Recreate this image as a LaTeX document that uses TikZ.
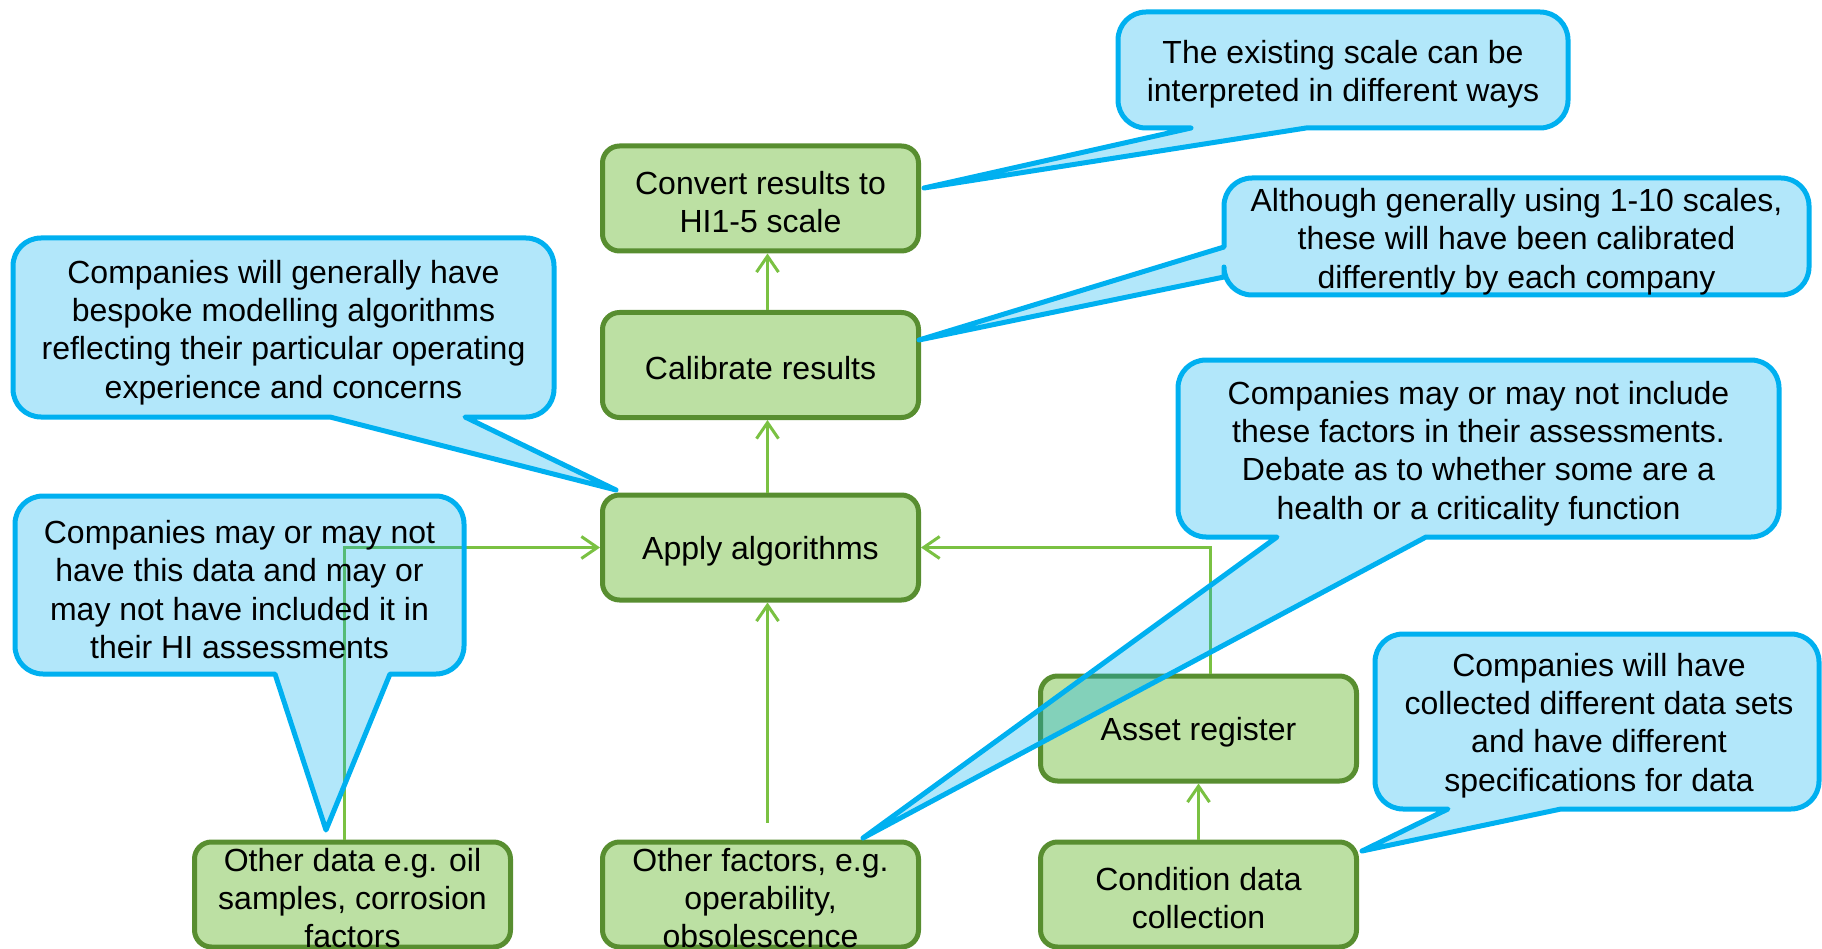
\documentclass[tikz,border=0pt]{standalone}
\usepackage{fontspec}
\setmainfont{Liberation Sans}
\usetikzlibrary{arrows.meta}
\definecolor{gfill}{RGB}{188,224,163}
\definecolor{gline}{RGB}{88,142,48}
\definecolor{garrow}{RGB}{122,193,66}
\definecolor{bline}{RGB}{0,176,240}
\newcommand\bR{28}
\newcommand\bK{15.5}
% callout with pointer on the bottom edge: x1 y1 x2 y2 bx1 bx2 tipx tipy
\newcommand\bubbleBottom[8]{%
\path[bubble] (#1+\bR,#2) -- (#3-\bR,#2)
 .. controls (#3-\bR+\bK,#2) and (#3,#2+\bR-\bK) .. (#3,#2+\bR)
 -- (#3,#4-\bR)
 .. controls (#3,#4-\bR+\bK) and (#3-\bR+\bK,#4) .. (#3-\bR,#4)
 -- (#6,#4) -- (#7,#8) -- (#5,#4) -- (#1+\bR,#4)
 .. controls (#1+\bR-\bK,#4) and (#1,#4-\bR+\bK) .. (#1,#4-\bR)
 -- (#1,#2+\bR)
 .. controls (#1,#2+\bR-\bK) and (#1+\bR-\bK,#2) .. (#1+\bR,#2) -- cycle;}
% callout with pointer on the left edge: x1 y1 x2 y2 by1 by2 tipx tipy
\newcommand\bubbleLeft[8]{%
\path[bubble] (#1+\bR,#2) -- (#3-\bR,#2)
 .. controls (#3-\bR+\bK,#2) and (#3,#2+\bR-\bK) .. (#3,#2+\bR)
 -- (#3,#4-\bR)
 .. controls (#3,#4-\bR+\bK) and (#3-\bR+\bK,#4) .. (#3-\bR,#4)
 -- (#1+\bR,#4)
 .. controls (#1+\bR-\bK,#4) and (#1,#4-\bR+\bK) .. (#1,#4-\bR)
 -- (#1,#6) -- (#7,#8) -- (#1,#5)
 -- (#1,#2+\bR)
 .. controls (#1,#2+\bR-\bK) and (#1+\bR-\bK,#2) .. (#1+\bR,#2) -- cycle;}
\tikzset{
  gbox/.style={draw=gline, fill=gfill, line width=5pt, rounded corners=17pt,
    minimum width=316pt, minimum height=105pt, inner sep=0pt},
  btext/.style={align=center, inner sep=0pt, font=\fontsize{32}{38.4}\selectfont},
  bubble/.style={fill=bline, fill opacity=0.3, draw=bline, draw opacity=1,
    line width=5pt, line join=round},
  arr/.style={draw=garrow, line width=3pt,
    -{Straight Barb[length=16pt,width=22pt,line width=3pt]}}
}
\begin{document}
\begin{tikzpicture}[x=1pt,y=-1pt]
\useasboundingbox (0,0) rectangle (1822,949);
% process boxes
\node[gbox] (conv)  at (760.5,198.5) {};
\node[gbox] (cal)   at (760.5,365)   {};
\node[gbox] (apply) at (760.5,547.5) {};
\node[gbox] (asset) at (1198.5,728.5) {};
\node[gbox] (cond)  at (1198.5,894.5) {};
\node[gbox] (odata) at (352.5,894.5) {};
\node[gbox] (ofact) at (760.5,894.5) {};
\node[btext] (convt)  at ([yshift=-3.5pt]conv.center)  {Convert results to\\HI1-5 scale};
\node[btext] (calt)   at ([yshift=-3.5pt]cal.center)   {Calibrate results};
\node[btext] (applyt) at ([yshift=-3.5pt]apply.center) {Apply algorithms};
\node[btext] (assett) at ([yshift=-3.5pt]asset.center) {Asset register};
\node[btext] (condt)  at ([yshift=-3.5pt]cond.center)  {Condition data\\collection};
\node[btext] (odatat) at ([yshift=-3.5pt]odata.center) {Other data e.g. oil\\samples, corrosion\\factors};
\node[btext] (ofactt) at ([yshift=-3.5pt]ofact.center) {Other factors, e.g.\\operability,\\obsolescence};
% connectors
\draw[arr] ([xshift=7pt]cal.north) -- ([xshift=7pt]conv.south);
\draw[arr] ([xshift=7pt]apply.north) -- ([xshift=7pt]cal.south);
\draw[arr] ([xshift=7pt,yshift=17pt]ofact.north) -- ([xshift=7pt]apply.south);
\draw[arr] ([xshift=-8pt]odata.north) |- (apply.west);
\draw[arr] ([xshift=12pt]asset.north) |- (apply.east);
\draw[arr] (cond.north) -- (asset.south);
% callouts
\bubbleBottom{1118}{12}{1568}{128}{1191}{1306}{924}{188}
\bubbleLeft{1224}{178}{1809}{295}{247}{277}{919}{340}
\bubbleBottom{13}{238}{554}{417}{330}{465}{616}{490}
\bubbleBottom{15}{496}{464}{674}{275}{390}{326}{830}
\bubbleBottom{1178}{360}{1779}{537}{1277}{1426}{863}{838}
\bubbleBottom{1375}{634}{1819}{809}{1448}{1561}{1362}{851}
\node[btext] (tA) at (1343,74.5) {The existing scale can be\\interpreted in different ways};
\node[btext] (tB) at (1516.5,241.5) {Although generally using 1-10 scales,\\these will have been calibrated\\differently by each company};
\node[btext] (tC) at (283.5,332.5) {Companies will generally have\\bespoke modelling algorithms\\reflecting their particular operating\\experience and concerns};
\node[btext] (tD) at (239.5,589.5) {Companies may or may not\\have this data and may or\\may not have included it in\\their HI assessments};
\node[btext] (tE) at (1478.5,453.5) {Companies may or may not include\\these factors in their assessments.\\Debate as to whether some are a\\health or a criticality function};
\node[btext] (tF) at (1599,725.5) {Companies will have\\collected different data sets\\and have different\\specifications for data};
\end{tikzpicture}
\end{document}
